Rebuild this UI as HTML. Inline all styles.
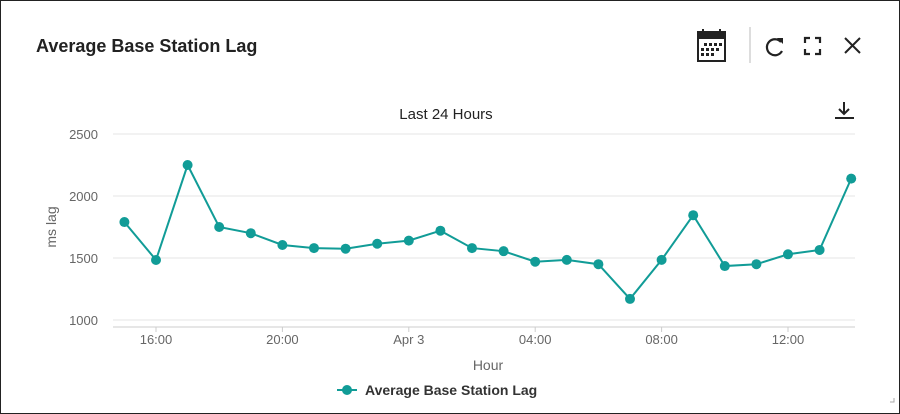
<!DOCTYPE html>
<html><head><meta charset="utf-8"><style>
body{margin:0;background:#fff;font-family:"Liberation Sans",sans-serif;}
#card{position:absolute;left:0;top:0;width:898px;height:412px;border:1px solid #222;background:#fff;overflow:hidden}
#title{position:absolute;left:35px;top:35px;font-size:18px;font-weight:bold;color:#222}
</style></head><body>
<div id="card">
<div id="title">Average Base Station Lag</div>
<svg width="900" height="414" style="position:absolute;left:-1px;top:-1px" id="svg">
<g>
<rect x="698" y="32" width="27" height="29" fill="#fff" stroke="#222" stroke-width="2"/>
<rect x="698" y="32" width="27" height="7" fill="#222"/>
<rect x="702" y="29" width="2" height="5" fill="#222"/><rect x="719" y="29" width="2" height="5" fill="#222"/>
<g fill="#222"><rect x="704" y="43" width="3" height="3"/><rect x="709" y="43" width="3" height="3"/><rect x="714" y="43" width="3" height="3"/><rect x="719" y="43" width="3" height="3"/>
<rect x="701" y="48" width="3" height="3"/><rect x="706" y="48" width="3" height="3"/><rect x="711" y="48" width="3" height="3"/><rect x="716" y="48" width="3" height="3"/>
<rect x="701" y="53" width="3" height="3"/><rect x="706" y="53" width="3" height="3"/><rect x="711" y="53" width="3" height="3"/></g></g>
<line x1="750" y1="27" x2="750" y2="63" stroke="#bbb"/>
<path d="M781 42 A8 8 0 1 0 782 51" fill="none" stroke="#222" stroke-width="2.2"/>
<path d="M777 38 L783 38 L783 44 Z" fill="#222"/>
<path d="M805 43 V38 H810 M815 38 H820 V43 M820 49 V54 H815 M810 54 H805 V49" fill="none" stroke="#222" stroke-width="2.2"/>
<path d="M845 38 L860 53 M860 38 L845 53" stroke="#222" stroke-width="2"/>
<g><path d="M844 102 V114 M839 109 L844 114 L849 109" fill="none" stroke="#222" stroke-width="2"/><rect x="835" y="117" width="19" height="2" fill="#222"/></g>
<text x="446" y="119" text-anchor="middle" font-size="15" fill="#222">Last 24 Hours</text>
<g id="grid"></g><g id="plot"></g>
<text x="488" y="370" text-anchor="middle" font-size="14" fill="#666">Hour</text>
<text transform="translate(56,227) rotate(-90)" text-anchor="middle" font-size="14" fill="#666">ms lag</text>
<g><line x1="337" y1="390" x2="357" y2="390" stroke="#119c97" stroke-width="2"/><circle cx="347" cy="390" r="5" fill="#119c97"/>
<text x="365" y="395" font-size="14" font-weight="bold" fill="#333">Average Base Station Lag</text></g>
<path d="M890 402 L894 402 L894 398" stroke="#aaa" fill="none"/>
</svg></div>
<script>
const hours=[15,16,17,18,19,20,21,22,23,24,25,26,27,28,29,30,31,32,33,34,35,36,37,38];
const values=[1790,1484,2250,1750,1700,1605,1580,1575,1615,1640,1720,1580,1555,1470,1485,1450,1170,1485,1845,1435,1450,1530,1565,2140];
const yTicks=[1000,1500,2000,2500];
const xTickHours=[16,20,24,28,32,36];
const xTickLabels=["16:00","20:00","Apr 3","04:00","08:00","12:00"];
const NS="http://www.w3.org/2000/svg";
const x=h=>156+(h-16)*31.6;
const y=v=>320-(v-1000)*0.124;
const grid=document.getElementById('grid'),plot=document.getElementById('plot');
function mk(t,a,p){const e=document.createElementNS(NS,t);for(const k in a)e.setAttribute(k,a[k]);p.appendChild(e);return e;}
yTicks.forEach(v=>{
 const l=mk('line',{x1:113,x2:855,y1:y(v),y2:y(v),stroke:'#e6e6e6'},grid);
 
 
 const t=mk('text',{x:98,y:y(v)+5,'text-anchor':'end','font-size':13,fill:'#666'},grid);t.textContent=v;
 
 
});
const ax=mk('line',{x1:113,x2:855,y1:y(1000)+7,y2:y(1000)+7,stroke:'#ccc'},grid);


xTickHours.forEach((h,i)=>{
 const tk=mk('line',{x1:x(h),x2:x(h),y1:y(1000)+7,y2:y(1000)+12,stroke:'#ccc'},grid);
 
 
 const t=mk('text',{x:x(h),y:344,'text-anchor':'middle','font-size':13,fill:'#666'},grid);t.textContent=xTickLabels[i];
 
 
});
const pl=mk('polyline',{points:hours.map((h,i)=>x(h)+','+y(values[i])).join(' '),fill:'none',stroke:'#119c97','stroke-width':2},plot);


hours.forEach((h,i)=>{
 const c=mk('circle',{cx:x(h),cy:y(values[i]),r:5,fill:'#119c97'},plot);
 
 
});
</script>
</body></html>
